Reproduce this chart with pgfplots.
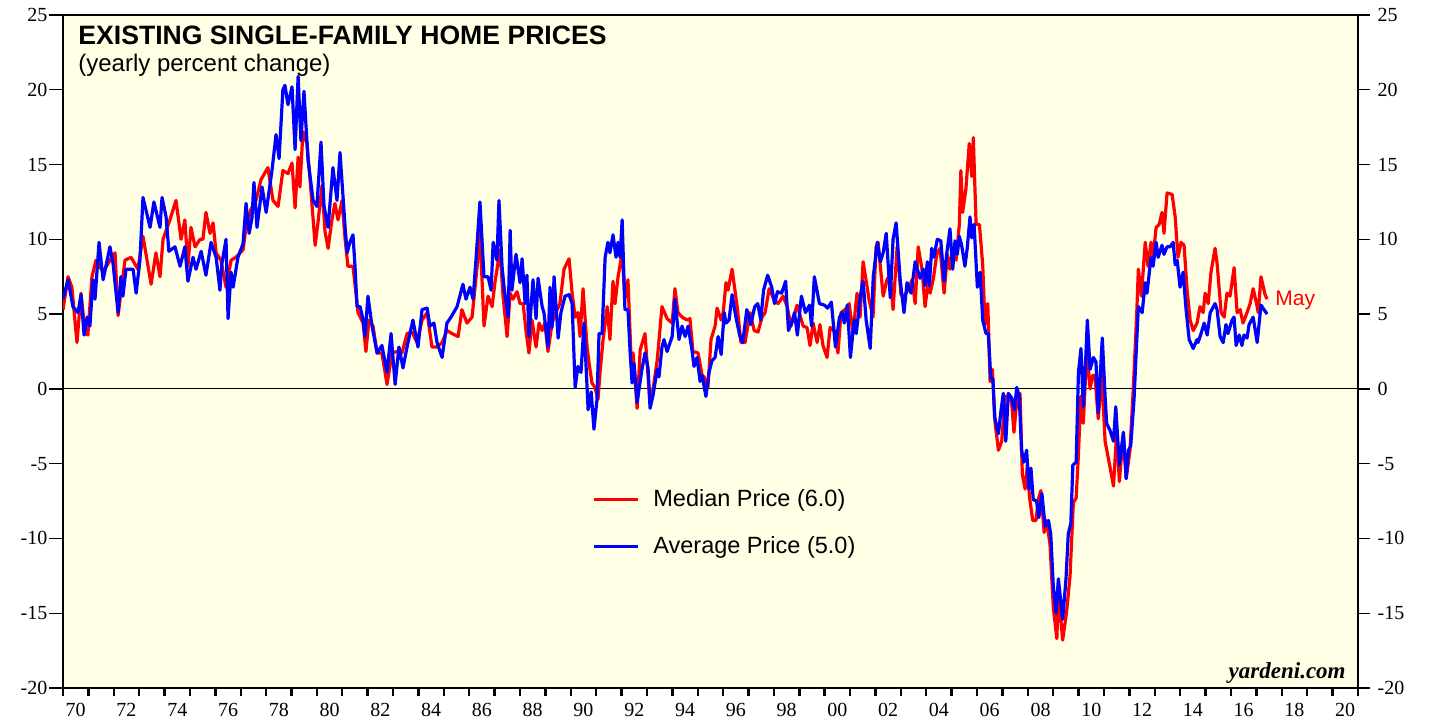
\documentclass[border=0pt]{standalone}
\usepackage{fontspec}
\setmainfont{Liberation Serif}
\newfontfamily\sansf{Liberation Sans}
\usepackage{pgfplots}
\usepackage{pgfplotstable}
\pgfplotsset{compat=1.18}
\definecolor{bgyellow}{RGB}{255,255,230}
\definecolor{medred}{RGB}{255,0,0}
\definecolor{avgblue}{RGB}{0,0,255}

% median price, yearly % change
\pgfplotstableread{
year val
1970.00 5.3
1970.20 7.5
1970.35 6.8
1970.55 3.1
1970.71 6.4
1970.87 3.7
1970.98 3.6
1971.14 7.5
1971.30 8.6
1971.58 7.8
1971.85 8.6
1972.05 9.1
1972.17 4.9
1972.44 8.6
1972.68 8.8
1972.95 8.0
1973.15 10.2
1973.47 7.0
1973.66 9.1
1973.82 7.5
1973.94 10.0
1974.21 11.3
1974.45 12.6
1974.65 10.0
1974.80 11.3
1974.92 8.2
1975.04 10.8
1975.20 9.5
1975.40 10.0
1975.51 10.0
1975.63 11.8
1975.79 10.4
1975.91 11.1
1976.03 9.1
1976.22 8.6
1976.42 6.8
1976.62 8.6
1976.81 8.8
1977.09 9.3
1977.21 10.8
1977.40 12.0
1977.60 12.6
1977.80 14.0
1978.07 14.8
1978.27 12.6
1978.47 12.2
1978.66 14.6
1978.86 14.4
1979.02 15.1
1979.14 12.1
1979.26 15.5
1979.33 13.5
1979.45 17.2
1979.61 16.4
1979.73 14.0
1979.93 9.6
1980.04 11.1
1980.20 13.6
1980.32 10.5
1980.44 9.4
1980.59 11.3
1980.71 12.4
1980.83 11.3
1980.99 12.6
1981.11 10.0
1981.22 8.2
1981.42 8.2
1981.62 5.1
1981.82 4.4
1981.93 2.5
1982.05 4.6
1982.21 4.2
1982.37 2.4
1982.56 2.4
1982.76 0.3
1982.96 2.4
1983.15 2.5
1983.35 2.4
1983.55 3.7
1983.75 3.8
1983.94 3.1
1984.14 4.6
1984.34 5.1
1984.53 2.8
1984.73 2.8
1984.93 3.1
1985.12 3.9
1985.32 3.7
1985.56 3.5
1985.71 5.3
1985.91 4.4
1986.11 4.8
1986.31 8.2
1986.42 10.6
1986.58 4.2
1986.74 6.2
1986.90 5.5
1987.01 7.1
1987.21 9.3
1987.33 6.2
1987.49 3.5
1987.61 6.4
1987.72 6.0
1987.88 6.5
1988.00 5.7
1988.12 5.7
1988.24 3.8
1988.35 2.4
1988.47 4.6
1988.63 2.8
1988.75 4.4
1988.87 3.9
1988.98 4.4
1989.10 2.5
1989.26 4.4
1989.46 5.3
1989.57 5.7
1989.73 8.0
1989.93 8.7
1990.05 6.4
1990.17 4.8
1990.28 5.1
1990.36 3.5
1990.48 6.7
1990.64 2.8
1990.72 1.7
1990.83 0.4
1990.95 0.1
1991.07 -0.7
1991.15 1.1
1991.27 3.3
1991.43 5.5
1991.54 3.3
1991.66 7.2
1991.74 5.7
1991.86 7.5
1992.02 9.1
1992.13 6.0
1992.25 7.3
1992.37 2.1
1992.45 2.4
1992.61 -1.3
1992.73 2.6
1992.92 3.7
1993.12 -1.0
1993.24 0.0
1993.40 1.9
1993.59 5.5
1993.79 4.7
1993.99 4.4
1994.10 6.7
1994.22 5.1
1994.38 4.8
1994.58 4.6
1994.69 4.7
1994.81 2.5
1995.01 2.4
1995.17 0.9
1995.25 0.8
1995.40 0.1
1995.52 3.3
1995.68 4.2
1995.76 5.4
1995.92 4.6
1996.00 5.1
1996.11 7.1
1996.19 6.6
1996.35 8.0
1996.55 5.5
1996.70 3.1
1996.86 3.1
1997.06 5.1
1997.22 3.9
1997.37 3.8
1997.53 4.8
1997.65 5.1
1997.81 6.7
1998.00 6.0
1998.16 5.7
1998.36 6.2
1998.52 5.5
1998.67 4.2
1998.91 5.6
1999.15 4.2
1999.30 4.1
1999.42 2.9
1999.54 4.4
1999.70 3.1
1999.81 4.3
1999.93 2.9
2000.09 2.1
2000.21 4.1
2000.37 3.9
2000.52 2.4
2000.64 5.1
2000.80 5.3
2000.96 5.7
2001.11 3.7
2001.27 6.4
2001.39 4.8
2001.51 8.5
2001.67 6.8
2001.74 6.0
2001.90 4.8
2002.02 9.5
2002.10 9.8
2002.30 6.2
2002.45 7.3
2002.57 7.6
2002.69 5.3
2002.85 9.5
2003.00 6.3
2003.12 6.2
2003.24 6.5
2003.44 7.3
2003.56 5.7
2003.68 9.5
2003.83 8.0
2003.95 5.5
2004.07 7.1
2004.15 6.4
2004.28 7.4
2004.41 9.0
2004.54 9.4
2004.70 6.4
2004.83 9.0
2004.93 8.0
2005.04 9.4
2005.17 8.6
2005.30 11.0
2005.36 14.6
2005.43 11.8
2005.56 13.4
2005.69 16.4
2005.79 14.2
2005.85 16.8
2005.96 11.0
2006.09 11.0
2006.22 8.3
2006.31 4.3
2006.42 5.7
2006.51 0.5
2006.60 1.3
2006.71 -2.3
2006.84 -4.1
2006.97 -3.5
2007.10 -0.5
2007.23 -0.5
2007.36 -0.9
2007.45 -2.9
2007.59 -0.3
2007.69 -0.3
2007.78 -5.7
2007.89 -6.7
2007.98 -5.1
2008.06 -7.2
2008.19 -8.8
2008.32 -8.8
2008.41 -7.4
2008.51 -6.8
2008.64 -9.6
2008.74 -8.8
2008.87 -10.4
2009.00 -14.6
2009.14 -16.7
2009.20 -13.6
2009.37 -16.8
2009.53 -14.8
2009.66 -12.5
2009.79 -7.6
2009.90 -7.3
2009.99 -4.4
2010.08 -0.5
2010.18 -2.3
2010.32 2.5
2010.45 0.0
2010.55 0.9
2010.64 0.9
2010.77 -2.0
2010.91 0.9
2011.04 -3.5
2011.24 -5.3
2011.37 -6.5
2011.50 -2.8
2011.60 -6.2
2011.76 -3.0
2011.87 -6.0
2012.02 -4.1
2012.15 0.0
2012.28 4.8
2012.35 8.0
2012.47 6.2
2012.62 9.8
2012.73 8.2
2012.85 9.8
2012.93 8.8
2013.05 10.8
2013.17 11.0
2013.28 11.8
2013.36 10.4
2013.48 13.1
2013.68 13.0
2013.80 11.5
2013.91 8.8
2014.03 9.8
2014.15 9.6
2014.27 6.6
2014.39 4.6
2014.51 3.9
2014.66 4.4
2014.78 5.5
2014.90 5.1
2014.98 6.4
2015.10 5.7
2015.21 7.8
2015.37 9.4
2015.45 8.4
2015.61 5.1
2015.73 4.8
2015.84 6.4
2015.96 6.2
2016.12 8.1
2016.24 5.1
2016.36 5.3
2016.47 4.4
2016.63 5.1
2016.75 5.7
2016.87 6.7
2017.03 5.5
2017.07 5.1
2017.18 7.5
2017.34 6.3
2017.42 6.0
}\median

% average price, yearly % change
\pgfplotstableread{
year val
1970.00 6.0
1970.20 7.3
1970.39 5.5
1970.59 5.1
1970.71 6.3
1970.83 3.6
1970.95 4.8
1971.06 4.2
1971.18 7.3
1971.26 6.0
1971.42 9.8
1971.58 7.3
1971.85 9.5
1971.97 8.4
1972.17 5.1
1972.28 7.5
1972.36 6.2
1972.48 8.0
1972.76 8.0
1972.88 6.4
1973.03 8.6
1973.15 12.8
1973.43 10.8
1973.58 12.5
1973.82 10.8
1973.90 12.8
1974.06 11.5
1974.17 9.2
1974.41 9.5
1974.61 8.2
1974.80 9.5
1974.92 7.2
1975.12 8.8
1975.24 8.0
1975.44 9.2
1975.63 7.6
1975.83 9.8
1976.03 8.8
1976.18 6.6
1976.26 8.4
1976.42 10.0
1976.50 4.7
1976.62 7.8
1976.70 6.8
1976.89 8.8
1977.09 9.7
1977.21 12.4
1977.33 10.4
1977.44 11.4
1977.52 13.8
1977.64 10.8
1977.84 13.5
1978.00 11.8
1978.23 14.6
1978.39 17.0
1978.51 15.4
1978.66 20.0
1978.74 20.3
1978.86 19.0
1979.02 20.2
1979.14 16.0
1979.26 20.9
1979.37 16.6
1979.49 19.9
1979.65 15.3
1979.85 12.6
1980.00 12.2
1980.16 16.5
1980.28 12.2
1980.44 10.8
1980.63 14.8
1980.79 12.6
1980.91 15.8
1981.11 10.8
1981.19 9.1
1981.30 9.8
1981.42 10.3
1981.50 8.2
1981.58 5.5
1981.70 5.5
1981.82 4.6
1981.89 3.5
1982.01 6.2
1982.17 4.2
1982.37 2.4
1982.56 2.9
1982.76 1.1
1982.92 3.7
1983.08 0.3
1983.23 2.8
1983.39 1.4
1983.55 2.8
1983.78 4.6
1983.98 2.8
1984.14 5.3
1984.34 5.4
1984.45 4.2
1984.61 4.4
1984.73 3.1
1984.93 2.1
1985.12 4.4
1985.28 4.8
1985.52 5.5
1985.75 7.0
1985.87 6.0
1986.03 6.8
1986.15 6.0
1986.27 8.8
1986.42 12.5
1986.58 7.5
1986.74 7.5
1986.86 6.6
1986.94 9.8
1987.09 8.6
1987.17 12.6
1987.29 8.2
1987.37 6.8
1987.53 4.8
1987.61 10.6
1987.68 6.6
1987.84 9.0
1988.00 7.1
1988.08 8.7
1988.20 5.7
1988.27 7.6
1988.35 3.5
1988.51 7.3
1988.63 4.7
1988.71 7.4
1988.87 5.5
1988.94 5.1
1989.10 2.8
1989.18 6.8
1989.26 4.1
1989.34 7.5
1989.50 3.4
1989.61 5.1
1989.77 6.2
1989.93 6.3
1990.05 5.7
1990.17 0.1
1990.28 1.5
1990.40 1.1
1990.52 4.4
1990.68 -1.4
1990.80 -0.2
1990.91 -2.7
1991.03 -0.7
1991.11 3.7
1991.23 3.7
1991.35 8.8
1991.46 9.8
1991.54 9.1
1991.66 10.3
1991.78 8.8
1991.86 9.8
1991.94 8.8
1992.02 11.3
1992.13 5.3
1992.25 5.3
1992.33 2.6
1992.41 0.4
1992.49 1.7
1992.61 -0.9
1992.80 1.3
1992.92 2.4
1993.04 1.4
1993.12 -1.3
1993.24 -0.4
1993.40 1.3
1993.47 0.8
1993.59 2.8
1993.67 3.3
1993.79 2.5
1993.99 3.5
1994.10 6.0
1994.26 3.3
1994.38 4.2
1994.50 3.5
1994.62 4.2
1994.77 2.6
1994.85 1.5
1994.97 2.1
1995.09 0.5
1995.17 0.9
1995.32 -0.5
1995.44 1.1
1995.56 1.9
1995.68 2.1
1995.80 3.5
1995.92 2.3
1996.04 5.1
1996.11 4.4
1996.23 4.6
1996.35 6.3
1996.50 4.8
1996.66 3.5
1996.77 3.1
1996.93 5.3
1997.09 4.3
1997.24 5.5
1997.36 5.7
1997.48 4.6
1997.59 6.6
1997.75 7.6
1997.91 6.8
1998.02 5.7
1998.14 6.5
1998.30 6.4
1998.46 7.2
1998.57 3.9
1998.73 4.6
1998.81 5.1
1998.92 3.6
1999.08 6.2
1999.24 5.1
1999.40 5.6
1999.48 4.2
1999.59 7.5
1999.79 5.7
1999.99 5.6
2000.11 5.4
2000.26 5.8
2000.42 2.8
2000.58 4.8
2000.69 5.1
2000.77 4.4
2000.89 5.6
2001.01 2.1
2001.16 4.6
2001.24 3.7
2001.40 6.2
2001.51 7.2
2001.63 4.6
2001.79 2.7
2001.91 7.5
2002.07 9.8
2002.19 8.5
2002.30 9.1
2002.42 10.4
2002.58 6.1
2002.69 10.0
2002.81 11.1
2002.97 7.3
2003.12 5.1
2003.24 7.1
2003.40 6.4
2003.56 8.5
2003.75 7.4
2003.88 8.0
2003.95 6.9
2004.04 8.5
2004.12 6.9
2004.21 9.4
2004.30 8.8
2004.43 10.0
2004.57 9.9
2004.70 7.2
2004.80 9.0
2004.93 10.7
2005.04 8.0
2005.13 9.9
2005.22 9.0
2005.30 10.2
2005.39 9.6
2005.52 8.2
2005.61 9.4
2005.72 11.5
2005.79 10.1
2005.88 11.0
2006.01 6.8
2006.12 7.8
2006.22 4.6
2006.35 3.7
2006.44 3.7
2006.54 0.7
2006.62 0.7
2006.69 -1.9
2006.84 -3.0
2006.93 -1.6
2007.03 -0.3
2007.13 -3.5
2007.23 -0.3
2007.36 -0.6
2007.47 -1.4
2007.56 0.1
2007.66 -0.5
2007.75 -4.1
2007.84 -4.9
2007.95 -4.1
2008.04 -6.7
2008.12 -5.3
2008.21 -7.4
2008.34 -7.5
2008.43 -8.6
2008.55 -7.0
2008.68 -9.2
2008.81 -8.8
2008.90 -9.7
2009.00 -13.2
2009.11 -15.0
2009.20 -12.7
2009.37 -15.4
2009.50 -12.7
2009.59 -9.7
2009.69 -9.0
2009.77 -5.1
2009.90 -4.9
2009.99 1.1
2010.09 2.7
2010.18 -1.2
2010.28 2.1
2010.34 4.6
2010.45 1.3
2010.58 2.1
2010.68 1.8
2010.77 -1.6
2010.93 3.4
2011.04 -0.5
2011.10 -2.3
2011.24 -2.8
2011.37 -3.5
2011.46 -1.2
2011.60 -5.1
2011.76 -2.9
2011.87 -6.0
2011.96 -4.1
2012.05 -3.8
2012.18 -0.7
2012.26 2.3
2012.35 5.5
2012.50 5.1
2012.62 7.1
2012.69 6.4
2012.85 8.8
2012.93 8.2
2013.05 9.8
2013.13 8.8
2013.28 9.6
2013.36 9.0
2013.48 9.5
2013.60 9.5
2013.72 9.8
2013.80 8.3
2013.88 8.6
2013.99 6.8
2014.11 7.8
2014.23 5.3
2014.35 3.3
2014.51 2.7
2014.66 3.3
2014.70 3.1
2014.82 3.7
2014.94 4.4
2015.06 3.6
2015.18 5.1
2015.37 5.7
2015.45 5.3
2015.57 3.5
2015.69 3.1
2015.80 4.3
2015.88 3.7
2016.04 4.6
2016.12 4.8
2016.20 2.9
2016.32 3.6
2016.43 2.9
2016.51 3.6
2016.63 3.4
2016.71 4.3
2016.87 4.8
2017.03 3.1
2017.18 5.6
2017.30 5.3
2017.42 5.0
}\average

\begin{document}
\begin{tikzpicture}
\begin{axis}[
  name=main,
  scale only axis,
  width=647.5pt, height=336.5pt,
  xmin=1970, xmax=2021, ymin=-20, ymax=25,
  axis background/.style={fill=bgyellow},
  axis line style={line width=1.2pt},
  tick align=outside,
  xtick={1970,...,2021},
  xticklabels={70,{},72,{},74,{},76,{},78,{},80,{},82,{},84,{},86,{},88,{},90,{},92,{},94,{},96,{},98,{},00,{},02,{},04,{},06,{},08,{},10,{},12,{},14,{},16,{},18,{},20,{}},
  xticklabel style={xshift=6.35pt},
  xtick pos=left,
  x tick style={black, line width=1.2pt, /pgfplots/major tick length=4pt},
  ytick={-20,-15,...,25},
  yticklabels={-20,-15,-10,-5,0,5,10,15,20,25},
  ytick pos=left,
  y tick style={black, line width=0.7pt, /pgfplots/major tick length=7pt},
  extra y ticks={0},
  extra y tick labels={},
  extra y tick style={grid=major, major grid style={black, line width=0.6pt}},
  tick label style={font=\fontsize{10}{12}\selectfont},
  legend style={draw=none, fill=none, font=\sansf\fontsize{11.75}{14}\selectfont,
    at={(axis cs:1990.6,-8.95)}, anchor=west, row sep=9.5pt, legend cell align=left},
  legend image code/.code={\draw[#1, line width=1.3pt] (0pt,0pt) -- (22pt,0pt);
    \path (27pt,0pt);},
]
\addplot[medred, line width=1.6pt, line join=round] table[x=year, y=val] {\median};
\addlegendentry{Median Price (6.0)}
\addplot[avgblue, line width=1.6pt, line join=round] table[x=year, y=val] {\average};
\addlegendentry{Average Price (5.0)}

\node[anchor=base west, inner sep=0, xshift=7.5pt, yshift=-15pt,
  font=\sansf\bfseries\fontsize{13.3}{15}\selectfont] at (rel axis cs:0,1)
  {EXISTING SINGLE-FAMILY HOME PRICES};
\node[anchor=base west, inner sep=0, xshift=7.5pt, yshift=-28.3pt,
  font=\sansf\fontsize{12}{14}\selectfont] at (rel axis cs:0,1)
  {(yearly percent change)};
\node[anchor=west, inner sep=0, text=medred, font=\sansf\fontsize{10.5}{12}\selectfont]
  at (axis cs:2017.73,5.9) {May};
\node[anchor=base east, inner sep=0, xshift=-6pt, yshift=5pt,
  font=\bfseries\itshape\fontsize{11.5}{13}\selectfont] at (rel axis cs:1,0) {yardeni.com};
\end{axis}

\begin{axis}[
  scale only axis,
  width=647.5pt, height=336.5pt,
  xmin=1970, xmax=2021, ymin=-20, ymax=25,
  axis x line=none,
  axis y line*=right,
  axis line style={line width=1.2pt},
  tick align=outside,
  ytick={-20,-15,...,25},
  yticklabels={-20,-15,-10,-5,0,5,10,15,20,25},
  y tick style={black, line width=0.7pt, /pgfplots/major tick length=6pt},
  yticklabel style={xshift=2pt},
  tick label style={font=\fontsize{10}{12}\selectfont},
]
\end{axis}

\path (main.south west) ++(-31.5pt,-15.5pt) coordinate (bl);
\path (main.north east) ++(35.5pt,7.5pt) coordinate (tr);
\path (bl) rectangle (tr);
\end{tikzpicture}
\end{document}
